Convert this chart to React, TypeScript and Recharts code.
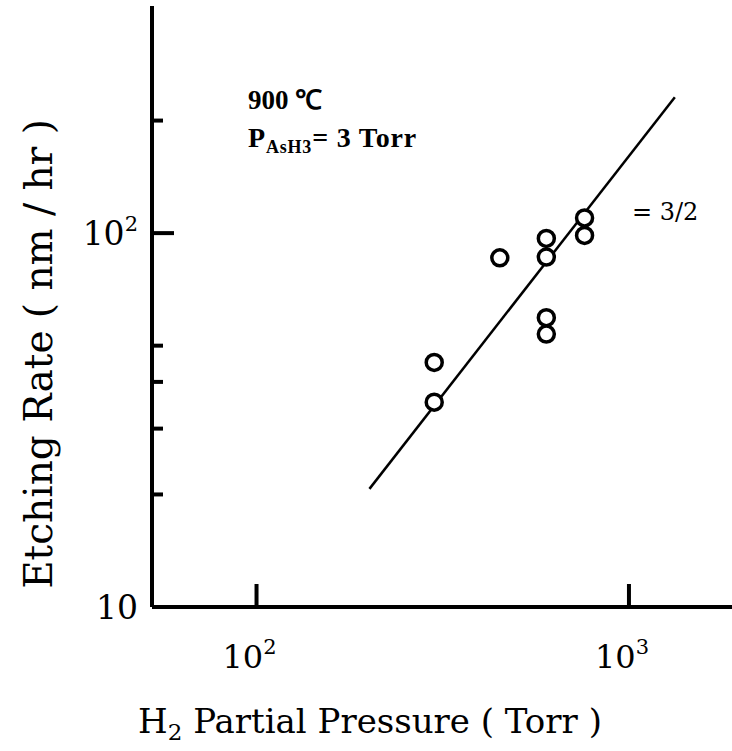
import React from 'react';
import { ScatterChart, Scatter, XAxis, YAxis, Label } from 'recharts';

// H2 partial pressure (Torr) and etching rate (nm/hr) of the measured points
const pressure = [300, 300, 450, 600, 600, 600, 600, 760, 760];
const etchRate = [45.1, 35.3, 85.9, 96.8, 86.3, 59.4, 53.7, 109.8, 98.6];

// fitted line end points
const fitPressure = [201, 1328];
const fitRate = [20.7, 231];

const xTicks = [100, 1000];
const xTickExp = ['2', '3'];
const yTicks = [10, 20, 30, 40, 50, 100, 200];
const yMajor = [10, 100];
const yTickText: Record<number, [string, string]> = { 10: ['10', ''], 100: ['10', '2'] };

const xDomain = [52.4, 1891];
const yDomain = [10, 405];

const points = pressure.map((p, i) => ({ x: p, y: etchRate[i] }));
const fit = fitPressure.map((p, i) => ({ x: p, y: fitRate[i] }));

const FONT = '"DejaVu Serif", serif';
const NOTE_FONT = '"Liberation Serif", serif';

const XTick = (props: any) => {
  const { x, y, payload } = props;
  const idx = xTicks.indexOf(payload.value);
  return (
    <g>
      <line x1={x} x2={x} y1={y} y2={y - 23} stroke="#000" strokeWidth={4} />
      <text x={x - 7} y={y + 61} textAnchor="middle" fontFamily={FONT} fontSize={32} fill="#000">
        10<tspan dy={-14} fontSize={21}>{xTickExp[idx]}</tspan>
      </text>
    </g>
  );
};

const YTick = (props: any) => {
  const { x, y, payload } = props;
  const v = payload.value;
  const major = yMajor.includes(v);
  const t = yTickText[v];
  return (
    <g>
      {v !== 10 && (
        <line x1={x} x2={x + (major ? 22 : 11)} y1={y} y2={y} stroke="#000" strokeWidth={4} />
      )}
      {t && (
        <text x={x - 14} y={y + 12} textAnchor="end" fontFamily={FONT} fontSize={33} fill="#000">
          {t[0]}
          {t[1] && <tspan dy={-14} fontSize={21}>{t[1]}</tspan>}
        </text>
      )}
    </g>
  );
};

const YTitle = () => (
  <text
    x={38}
    y={354}
    transform="rotate(-90, 38, 354)"
    textAnchor="middle"
    dominantBaseline="central"
    fontFamily={FONT}
    fontSize={39}
    fill="#000"
  >
    Etching Rate ( nm / hr )
  </text>
);

const XTitleAndNotes = () => (
  <g>
    <text x={370} y={733} textAnchor="middle" fontFamily={FONT} fontSize={34} fill="#000">
      H<tspan dy={7} fontSize={23}>2</tspan>
      <tspan dy={-7}> Partial Pressure ( Torr )</tspan>
    </text>
    <text x={248} y={109} fontFamily={NOTE_FONT} fontSize={27} fontWeight="bold" fill="#000">
      900 ℃
    </text>
    <text
      x={248}
      y={147}
      fontFamily={NOTE_FONT}
      fontSize={28}
      fontWeight="bold"
      letterSpacing={0.8}
      fill="#000"
    >
      P<tspan dy={6} fontSize={18}>AsH3</tspan>
      <tspan dy={-6}>= 3 Torr</tspan>
    </text>
    <text x={632} y={220} fontFamily={FONT} fontSize={24} fill="#000">
      = 3/2
    </text>
  </g>
);

const OpenCircle = (props: any) => {
  const { cx, cy } = props;
  return <circle cx={cx} cy={cy} r={8} fill="#fff" stroke="#000" strokeWidth={3.5} />;
};

export default function App() {
  return (
    <div
      style={{
        position: 'fixed',
        left: 0,
        top: 0,
        width: 732,
        height: 751,
        overflow: 'hidden',
        background: '#fff',
      }}
    >
      <ScatterChart width={732} height={751} margin={{ top: 6, right: 0, bottom: 0, left: 0 }}>
        <XAxis
          xAxisId="bottom"
          dataKey="x"
          type="number"
          scale="log"
          domain={xDomain}
          allowDataOverflow
          ticks={xTicks}
          interval={0}
          height={144}
          axisLine={{ stroke: '#000', strokeWidth: 4 }}
          tickLine={false}
          tickSize={0}
          tickMargin={0}
          tick={<XTick />}
        >
          <Label content={<XTitleAndNotes />} />
        </XAxis>
        <XAxis
          xAxisId="top"
          orientation="top"
          dataKey="x"
          type="number"
          scale="log"
          domain={xDomain}
          allowDataOverflow
          height={0}
          axisLine={{ stroke: '#000', strokeWidth: 4 }}
          tickLine={false}
          tick={false}
        />
        <YAxis
          dataKey="y"
          type="number"
          scale="log"
          domain={yDomain}
          allowDataOverflow
          ticks={yTicks}
          interval={0}
          width={152}
          axisLine={{ stroke: '#000', strokeWidth: 4 }}
          tickLine={false}
          tickSize={0}
          tickMargin={0}
          tick={<YTick />}
        >
          <Label content={<YTitle />} />
        </YAxis>
        <Scatter
          xAxisId="bottom"
          data={fit}
          line={{ stroke: '#000', strokeWidth: 2.5 }}
          shape={() => <g />}
          isAnimationActive={false}
        />
        <Scatter xAxisId="bottom" data={points} shape={<OpenCircle />} isAnimationActive={false} />
      </ScatterChart>
    </div>
  );
}
